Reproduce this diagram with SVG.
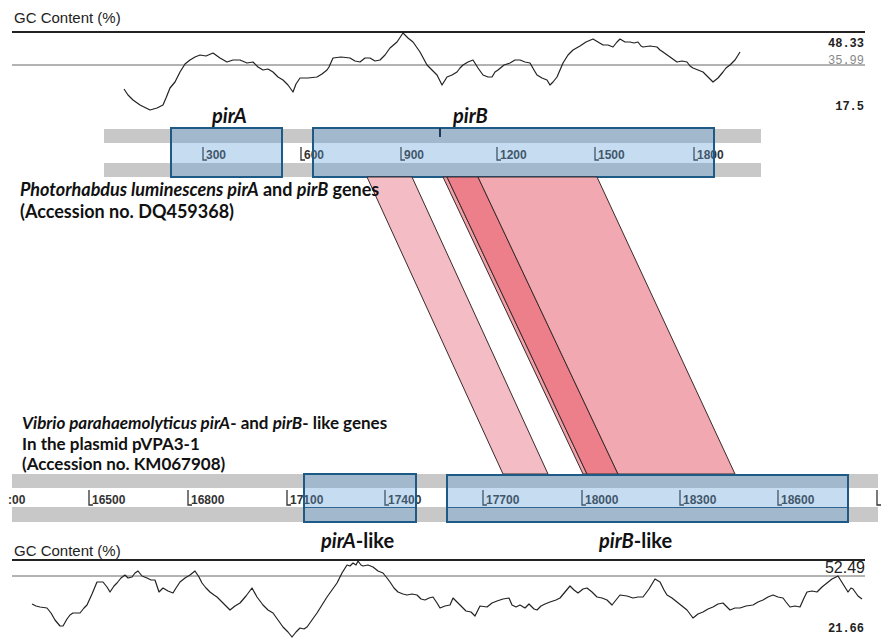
<svg xmlns="http://www.w3.org/2000/svg" width="882" height="639" viewBox="0 0 882 639">
<style>
.gclabel{font-family:"Liberation Sans",Arial,sans-serif;font-size:15px;fill:#222}
.num{font-family:"Liberation Mono","DejaVu Sans Mono",monospace;font-size:12px;font-weight:bold;fill:#222}
.axis{font-family:"Liberation Sans",Arial,sans-serif;font-size:12px;font-weight:bold;fill:#333}
.gene{font-family:Lato,"Open Sans",sans-serif;font-size:20px;font-weight:bold;fill:#111}
.cap{font-family:Lato,"Open Sans",sans-serif;font-size:18px;font-weight:bold;fill:#111}
.capb{font-family:Lato,"Open Sans",sans-serif;font-size:17px;font-weight:bold;fill:#111}
.thick{stroke:#222;stroke-width:2}
.thin{stroke:#666;stroke-width:1}
.curve{fill:none;stroke:#222;stroke-width:1.2;stroke-linejoin:round}
.bar{fill:#c8c8c8}
.box{fill:#5b9bd5;fill-opacity:0.35;stroke:#1d5a86;stroke-width:2}
.tick{fill:none;stroke:#333;stroke-width:1.3}
.rib{stroke:#3a2a2a;stroke-width:1}
</style>

<g id="gc-top">
  <text class="gclabel" x="14" y="23">GC Content (%)</text>
  <line class="thick" x1="12" y1="32" x2="865" y2="32"/>
  <line class="thin" x1="12" y1="65" x2="865" y2="65"/>
  <text class="num" x="864" y="47" text-anchor="end">48.33</text>
  <text class="num" x="864" y="64" text-anchor="end" style="fill:#888;font-weight:normal">35.99</text>
  <text class="num" x="864" y="110" text-anchor="end">17.5</text>
  <polyline class="curve" points="124,89 128,95 133,100 140,105 150,110 157,108 163,105 166,98 170,88 175,82 180,72 185,64 190,60 195,57 200,55 206,56 213,53 220,58 227,62 233,60 240,60 247,63 253,62 258,67 263,70 268,69 273,72 278,77 283,80 288,85 293,92 296,84 300,78 308,78 317,77 322,74 327,70 329,67 333,58 341,57 350,58 355,61 360,62 365,58 370,58 375,61 380,60 385,55 390,48 397,42 403,33 408,38 413,42 420,52 427,65 432,70 437,75 442,85 447,77 452,75 457,72 460,68 463,65 468,62 473,60 478,68 483,75 488,77 492,77 495,72 498,70 504,65 510,63 515,60 520,60 525,62 530,63 534,70 537,75 542,78 547,80 550,85 553,82 557,77 560,70 563,63 568,55 573,50 580,46 586,42 593,39 598,42 603,45 608,45 613,47 617,42 620,39 625,42 630,42 634,43 638,42 641,46 643,47 650,46 657,47 660,50 663,52 670,57 677,62 682,61 687,62 690,66 693,68 698,70 703,72 708,77 713,82 718,78 723,72 726,68 730,65 735,60 740,52"/>
</g>

<g id="track-top">
  <rect class="bar" x="104" y="129" width="657" height="14"/>
  <rect class="bar" x="104" y="163" width="657" height="14"/>
  <path class="tick" d="M203,147V160H207"/><text class="axis" x="206" y="159">300</text>
  <path class="tick" d="M301,147V160H305"/><text class="axis" x="304" y="159">600</text>
  <path class="tick" d="M401,147V160H405"/><text class="axis" x="404" y="159">900</text>
  <path class="tick" d="M497,147V160H501"/><text class="axis" x="500" y="159">1200</text>
  <path class="tick" d="M595,147V160H599"/><text class="axis" x="598" y="159">1500</text>
  <path class="tick" d="M694,147V160H698"/><text class="axis" x="697" y="159">1800</text>
</g>

<g id="gene-pirA">
  <rect class="box" x="171" y="128" width="111" height="49"/>
  <text class="gene" x="212" y="123" font-style="italic">pirA</text>
</g>

<g id="gene-pirB">
  <rect class="box" x="313" y="128" width="401" height="49"/>
  <line x1="440" y1="128" x2="440" y2="137" stroke="#1d3a5a" stroke-width="2"/>
  <text class="gene" x="453" y="123" font-style="italic">pirB</text>
</g>

<g id="connectors">
  <polygon class="rib" points="367,177 412,177 548,474 503,474" fill="#f4bcc4"/>
  <polygon class="rib" points="443,177 447,177 587,474 583,474" fill="#f0a0a8"/>
  <polygon class="rib" points="447,177 478,177 618,474 587,474" fill="#ec7f89"/>
  <polygon class="rib" points="478,177 597,177 735,474 618,474" fill="#f2a8b0"/>
</g>

<g id="caption-top">
  <text class="cap" x="20" y="196"><tspan font-style="italic">Photorhabdus luminescens pirA</tspan> and <tspan font-style="italic">pirB</tspan> genes</text>
  <text class="cap" x="20" y="218">(Accession no. DQ459368)</text>
</g>

<g id="caption-bottom">
  <text class="capb" x="22" y="429"><tspan font-style="italic">Vibrio parahaemolyticus pirA</tspan>- and <tspan font-style="italic">pirB</tspan>- like genes</text>
  <text class="capb" x="22" y="450">In the plasmid pVPA3-1</text>
  <text class="capb" x="22" y="470">(Accession no. KM067908)</text>
</g>

<g id="track-bottom">
  <rect class="bar" x="12" y="474" width="866" height="14"/>
  <rect class="bar" x="12" y="507" width="866" height="15"/>
  <text class="axis" x="8" y="504">:00</text>
  <path class="tick" d="M89,490V505H93"/><text class="axis" x="92" y="504">16500</text>
  <path class="tick" d="M188,490V505H192"/><text class="axis" x="191" y="504">16800</text>
  <path class="tick" d="M287,490V505H291"/><text class="axis" x="290" y="504">17100</text>
  <path class="tick" d="M385,490V505H389"/><text class="axis" x="388" y="504">17400</text>
  <path class="tick" d="M483,490V505H487"/><text class="axis" x="486" y="504">17700</text>
  <path class="tick" d="M582,490V505H586"/><text class="axis" x="585" y="504">18000</text>
  <path class="tick" d="M680,490V505H684"/><text class="axis" x="683" y="504">18300</text>
  <path class="tick" d="M778,490V505H782"/><text class="axis" x="781" y="504">18600</text>
  <path class="tick" d="M877,490V505H881"/>
</g>

<g id="gene-pirA-like">
  <rect class="box" x="304" y="474" width="112" height="48"/>
  <line x1="305" y1="507.5" x2="415" y2="507.5" stroke="#2f6590" stroke-width="1"/>
  <text class="gene" x="321" y="548"><tspan font-style="italic">pirA</tspan>-like</text>
</g>

<g id="gene-pirB-like">
  <rect class="box" x="447" y="475" width="401" height="47"/>
  <line x1="448" y1="507.5" x2="847" y2="507.5" stroke="#2f6590" stroke-width="1"/>
  <text class="gene" x="599" y="548"><tspan font-style="italic">pirB</tspan>-like</text>
</g>

<g id="gc-bottom">
  <text class="gclabel" x="14" y="556">GC Content (%)</text>
  <line class="thick" x1="12" y1="560" x2="865" y2="560"/>
  <line class="thin" x1="12" y1="576" x2="865" y2="576"/>
  <text x="865" y="573" text-anchor="end" font-family="Liberation Sans, Arial, sans-serif" font-size="16" fill="#222">52.49</text>
  <text class="num" x="864" y="632" text-anchor="end">21.66</text>
  <polyline class="curve" points="32,604 36,606 40,607 47,608 51,613 55,620 60,626 63,626 67,619 70,615 73,613 80,613 84,608 87,605 92,594 97,582 103,582 107,587 110,592 114,586 117,583 121,578 125,575 128,578 132,577 135,573 138,571 142,576 147,578 151,580 155,580 159,592 163,588 168,591 173,593 176,588 180,582 185,578 190,575 195,571 199,577 202,583 206,588 210,592 214,595 217,597 224,604 230,610 235,606 240,603 246,596 252,588 257,597 263,605 268,610 273,613 278,620 283,627 288,632 292,637 296,632 300,628 304,629 307,627 312,620 317,613 322,605 327,597 332,590 337,583 342,573 347,565 350,566 353,563 356,565 358,561 361,565 363,566 368,565 373,567 378,571 383,573 387,578 390,582 394,588 398,592 403,594 407,595 412,594 417,595 421,599 425,600 429,598 433,597 437,603 440,608 445,606 450,605 453,598 455,600 460,605 466,611 471,612 475,616 480,606 487,607 492,603 497,601 503,599 509,598 512,605 516,607 520,605 525,608 529,604 534,609 537,610 541,606 545,604 550,602 556,600 560,598 565,592 570,586 574,590 578,593 583,589 587,588 592,592 597,597 602,598 607,600 612,605 616,600 620,595 627,596 633,598 638,597 643,597 649,589 655,579 660,582 664,590 667,595 672,598 677,602 682,606 687,610 690,614 693,618 698,614 703,612 708,609 713,607 718,604 723,603 727,607 730,610 735,608 740,608 746,606 753,605 758,602 763,600 768,597 773,595 778,597 783,598 786,602 790,607 795,606 800,607 804,598 807,592 812,591 817,592 822,587 827,583 832,579 838,576 843,584 848,592 851,588 853,589 858,596 862,599"/>
</g>
</svg>
